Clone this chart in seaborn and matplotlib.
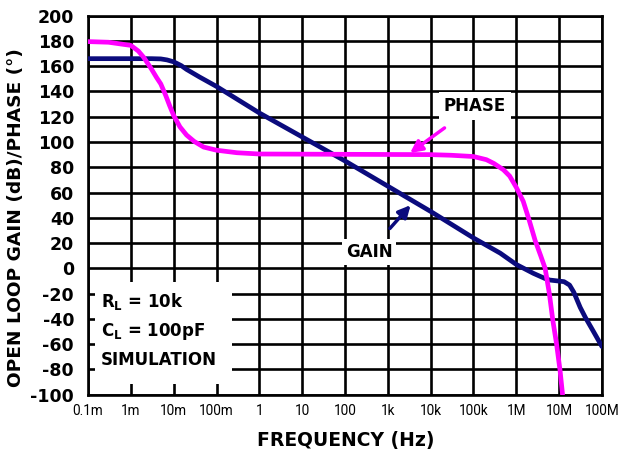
import numpy as np
import pandas as pd
import matplotlib.pyplot as plt
import seaborn as sns
from matplotlib import font_manager as fm
from matplotlib.patches import Rectangle

# values
gain_freq = [1e-4, 1e-3, 3e-3, 5e-3, 7e-3, 1e-2, 1.5e-2, 2e-2, 4e-2, 1e-1, 1, 10, 100,
             1e3, 1e4, 1e5, 4.2e5, 1e6, 2.5e6, 4.6e6, 6e6, 1.3e7, 1.75e7, 2.2e7,
             3.1e7, 4.1e7, 6.3e7, 1e8]
gain_db = [166, 166, 166, 165.8, 165, 163.5, 160.5, 157.5, 151.5, 144, 123, 104, 85,
           65, 45, 24, 12, 3, -4, -8, -9.3, -10.6, -13.3, -19,
           -31, -39, -50, -62]

phase_freq = [1e-4, 3e-4, 1e-3, 1.5e-3, 2e-3, 3e-3, 4e-3, 5e-3, 6.5e-3, 8e-3, 1e-2,
              1.4e-2, 2e-2, 3e-2, 5e-2, 1e-1, 0.3, 1, 1e4, 3e4, 1e5, 2e5, 3e5, 5e5,
              7e5, 1e6, 1.45e6, 2e6, 2.75e6, 3.7e6, 4.7e6, 5.9e6, 7.1e6, 8.7e6,
              1.05e7, 1.2e7]
phase_deg = [179.5, 179, 176.5, 172, 167, 158, 151, 146, 137, 129, 121,
             112, 105.5, 100.5, 96, 93.5, 91.5, 90.5, 90, 89.5, 88.5, 86, 83, 78,
             73, 64, 53, 38, 22, 10, 0, -20, -41, -60,
             -81, -100]

x_ticks = [1e-4, 1e-3, 1e-2, 1e-1, 1, 10, 100, 1e3, 1e4, 1e5, 1e6, 1e7, 1e8]
x_labels = ["0.1m", "1m", "10m", "100m", "1", "10", "100", "1k", "10k", "100k",
            "1M", "10M", "100M"]
y_ticks = list(range(-100, 201, 20))

GAIN_COLOR = "#0b0b7d"
PHASE_COLOR = "#ff00ff"

sns.set_style("white")
plt.rcParams["font.family"] = ["DejaVu Sans"]
plt.rcParams["mathtext.fontset"] = "dejavusans"
plt.rcParams["axes.unicode_minus"] = False
plt.rcParams["text.color"] = "black"
plt.rcParams["axes.labelcolor"] = "black"
plt.rcParams["xtick.color"] = "black"
plt.rcParams["ytick.color"] = "black"

# narrowest face available for the frequency labels
names = {f.name for f in fm.fontManager.ttflist}
if "Liberation Sans Narrow" in names:
    xtick_font = dict(family="Liberation Sans Narrow", size=11.5)
elif "Roboto" in names:
    xtick_font = dict(family="Roboto", size=9.8)
else:
    xtick_font = dict(family="DejaVu Sans", size=9)

gain_df = pd.DataFrame({"freq": gain_freq, "value": gain_db})
phase_df = pd.DataFrame({"freq": phase_freq, "value": phase_deg})

fig = plt.figure(figsize=(6.18, 4.53), dpi=100)
ax = fig.add_axes([0.1424, 0.129, 0.8317, 0.8363])

sns.lineplot(data=gain_df, x="freq", y="value", ax=ax, color=GAIN_COLOR,
             linewidth=3.4, zorder=4)
sns.lineplot(data=phase_df, x="freq", y="value", ax=ax, color=PHASE_COLOR,
             linewidth=3.4, zorder=5)

ax.set_xscale("log")
ax.set_xlim(1e-4, 1e8)
ax.set_ylim(-100, 200)
ax.set_xticks(x_ticks)
ax.set_xticklabels(x_labels)
ax.minorticks_off()
ax.set_yticks(y_ticks)
ax.grid(True, color="black", linewidth=1.9, zorder=1)
ax.set_axisbelow(True)
for s in ax.spines.values():
    s.set_color("black")
    s.set_linewidth(1.9)

ax.tick_params(axis="both", length=0, colors="black")
ax.tick_params(axis="y", pad=10)
ax.tick_params(axis="x", pad=7)
for lbl in ax.get_yticklabels():
    lbl.set_fontweight("bold")
    lbl.set_fontsize(12.5)
for lbl in ax.get_xticklabels():
    lbl.set_fontproperties(fm.FontProperties(**xtick_font))

ax.set_xlabel("FREQUENCY (Hz)", fontsize=13.5, fontweight="bold", va="center")
ax.set_ylabel("OPEN LOOP GAIN (dB)/PHASE (°)", fontsize=13.3, fontweight="bold",
              va="center")
ax.xaxis.set_label_coords(0.502, -0.12)
ax.yaxis.set_label_coords(-0.14, 0.466)

# curve labels
ax.annotate("GAIN", xy=(3400, 50), xytext=(363, 12.9), ha="center", va="center",
            fontsize=12, fontweight="bold",
            bbox=dict(boxstyle="square,pad=0.25", fc="white", ec="none"),
            arrowprops=dict(arrowstyle="-|>", color=GAIN_COLOR, lw=2.5,
                            mutation_scale=18, shrinkA=10, shrinkB=0),
            zorder=6)
ax.annotate("PHASE", xy=(3300, 91.3), xytext=(108600, 128.7), ha="center",
            va="center", fontsize=12, fontweight="bold",
            bbox=dict(boxstyle="square,pad=0.3", fc="white", ec="none"),
            arrowprops=dict(arrowstyle="-|>", color=PHASE_COLOR, lw=2.5,
                            mutation_scale=18, shrinkA=10, shrinkB=0),
            zorder=6)

# conditions box
ax.add_patch(Rectangle((0.0136, 0.028), 0.267, 0.269, transform=ax.transAxes,
                       facecolor="white", edgecolor="none", zorder=3))
cond = [r"R$_\mathbf{L}$ = 10k", r"C$_\mathbf{L}$ = 100pF", "SIMULATION"]
for txt, yy in zip(cond, [0.245, 0.166, 0.091]):
    ax.text(0.0247, yy, txt, transform=ax.transAxes, ha="left", va="center",
            fontsize=12, fontweight="bold", zorder=6)

fig.savefig("out.png", dpi=100)
